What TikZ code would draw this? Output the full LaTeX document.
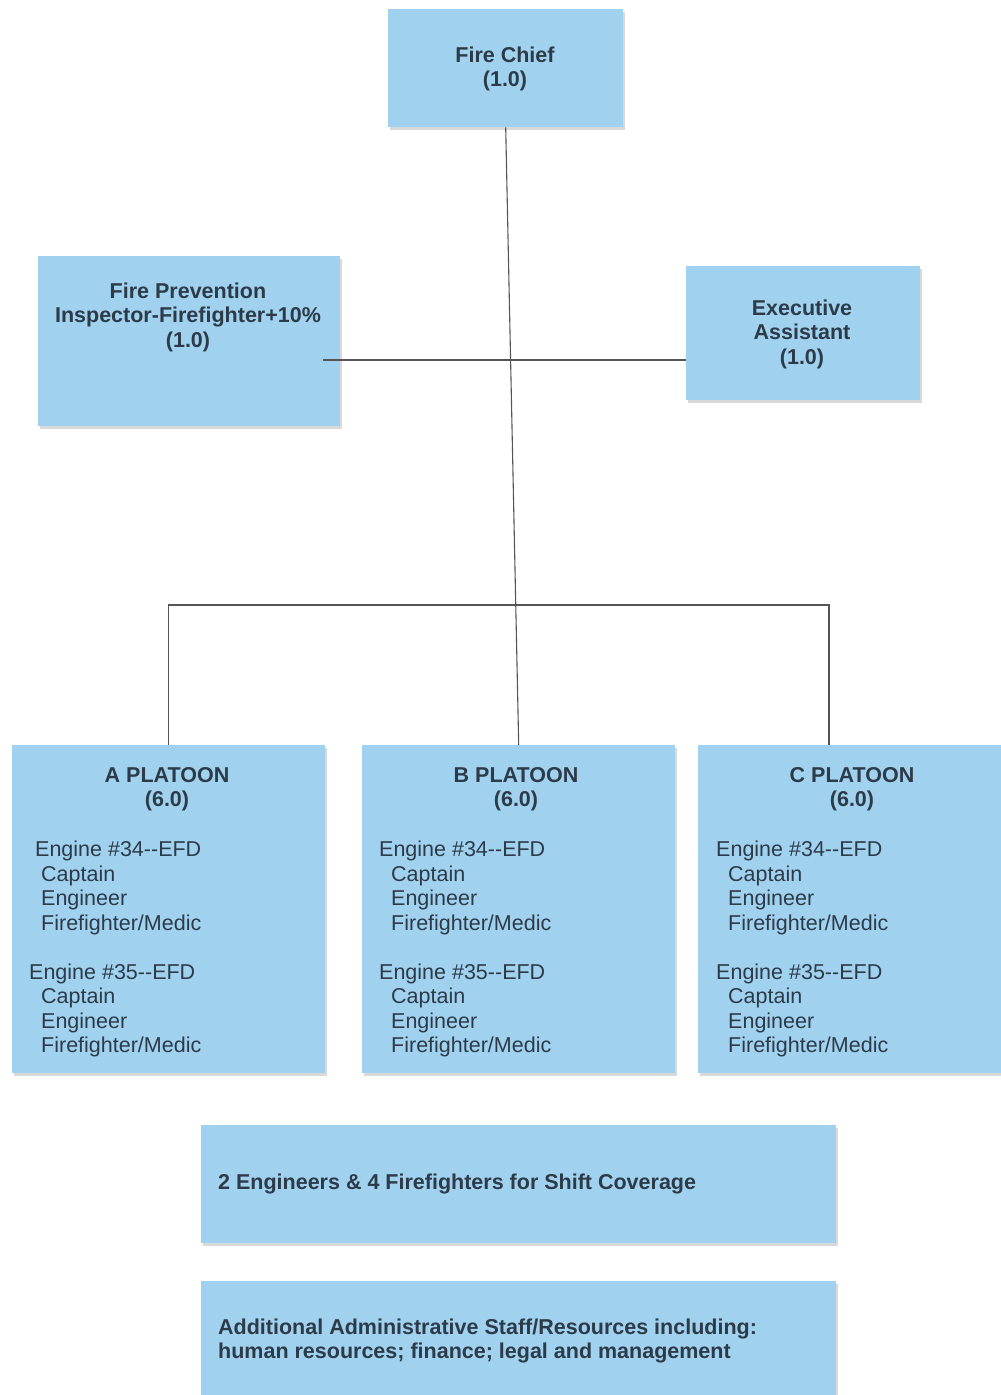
\documentclass[tikz,border=0pt]{standalone}
\usepackage{fontspec}
\setmainfont{Liberation Sans}
\usetikzlibrary{shadows}
\definecolor{boxblue}{RGB}{160,210,240}
\definecolor{ink}{RGB}{45,58,72}
\definecolor{wire}{RGB}{85,85,85}
\begin{document}
\begin{tikzpicture}[x=1pt, y=-1pt,
  box/.style={rectangle, fill=boxblue, inner sep=0pt, anchor=north west,
    drop shadow={shadow xshift=2pt, shadow yshift=-3pt, fill=black, opacity=0.15}},
  txt/.style={text=ink, inner sep=0pt, font=\fontsize{21.5}{24.5}\selectfont},
  head/.style={txt, align=center, font=\fontsize{21.5}{24.5}\selectfont\bfseries},
  list/.style={txt, align=left, anchor=north west},
  wire/.style={draw=wire, line width=1.1pt}]
\useasboundingbox (0,0) rectangle (1001,1395);
\clip (0,0) rectangle (1001,1395);
\fill[white] (0,0) rectangle (1001,1395);
% boxes
\node[box, minimum width=235, minimum height=118] (chief) at (388,9) {};
\node[box, minimum width=302, minimum height=170] (prev) at (38,256) {};
\node[box, minimum width=234, minimum height=134] (exec) at (686,266) {};
\node[box, minimum width=313, minimum height=328] (pa) at (12,745) {};
\node[box, minimum width=313, minimum height=328] (pb) at (362,745) {};
\node[box, minimum width=313, minimum height=328] (pc) at (698,745) {};
\node[box, minimum width=635, minimum height=118] (shift) at (201,1125) {};
\node[box, minimum width=635, minimum height=130] (admin) at (201,1281) {};
% connectors
\coordinate (jl) at (323,360);
\coordinate (bus) at (0,605);
\coordinate (cdrop) at (829,745);
\draw[wire] (chief.south) -- (pb.north);
\draw[wire] (jl) -- (exec.west |- jl);
\draw[wire] (pa.north) -- (pa.north |- bus) -- (cdrop |- bus) -- (cdrop);
% texts
\node[head] (chieft) at (505,69) {Fire Chief\\(1.0)};
\node[head] (prevt) at (188,317) {Fire Prevention\\Inspector-Firefighter+10\%\\(1.0)};
\node[head] (exect) at (802,334) {Executive\\Assistant\\(1.0)};
\node[head] (pat) at (167,789) {A PLATOON\\(6.0)};
\node[head] (pbt) at (516,789) {B PLATOON\\(6.0)};
\node[head] (pct) at (852,789) {C PLATOON\\(6.0)};
\node[list] (pal) at (29,841) {\hspace*{6pt}Engine \#34-\kern0pt-EFD\\
  \hspace*{12pt}Captain\\\hspace*{12pt}Engineer\\\hspace*{12pt}Firefighter/Medic\\[24.5pt]
  Engine \#35-\kern0pt-EFD\\
  \hspace*{12pt}Captain\\\hspace*{12pt}Engineer\\\hspace*{12pt}Firefighter/Medic};
\node[list] (pbl) at (379,841) {Engine \#34-\kern0pt-EFD\\
  \hspace*{12pt}Captain\\\hspace*{12pt}Engineer\\\hspace*{12pt}Firefighter/Medic\\[24.5pt]
  Engine \#35-\kern0pt-EFD\\
  \hspace*{12pt}Captain\\\hspace*{12pt}Engineer\\\hspace*{12pt}Firefighter/Medic};
\node[list] (pcl) at (716,841) {Engine \#34-\kern0pt-EFD\\
  \hspace*{12pt}Captain\\\hspace*{12pt}Engineer\\\hspace*{12pt}Firefighter/Medic\\[24.5pt]
  Engine \#35-\kern0pt-EFD\\
  \hspace*{12pt}Captain\\\hspace*{12pt}Engineer\\\hspace*{12pt}Firefighter/Medic};
\node[head, anchor=west] (shiftt) at (218,1184) {2 Engineers \& 4 Firefighters for Shift Coverage};
\node[head, align=left, anchor=west] (admint) at (218,1341) {Additional Administrative Staff/Resources including:\\human resources; finance; legal and management};
\end{tikzpicture}
\end{document}
